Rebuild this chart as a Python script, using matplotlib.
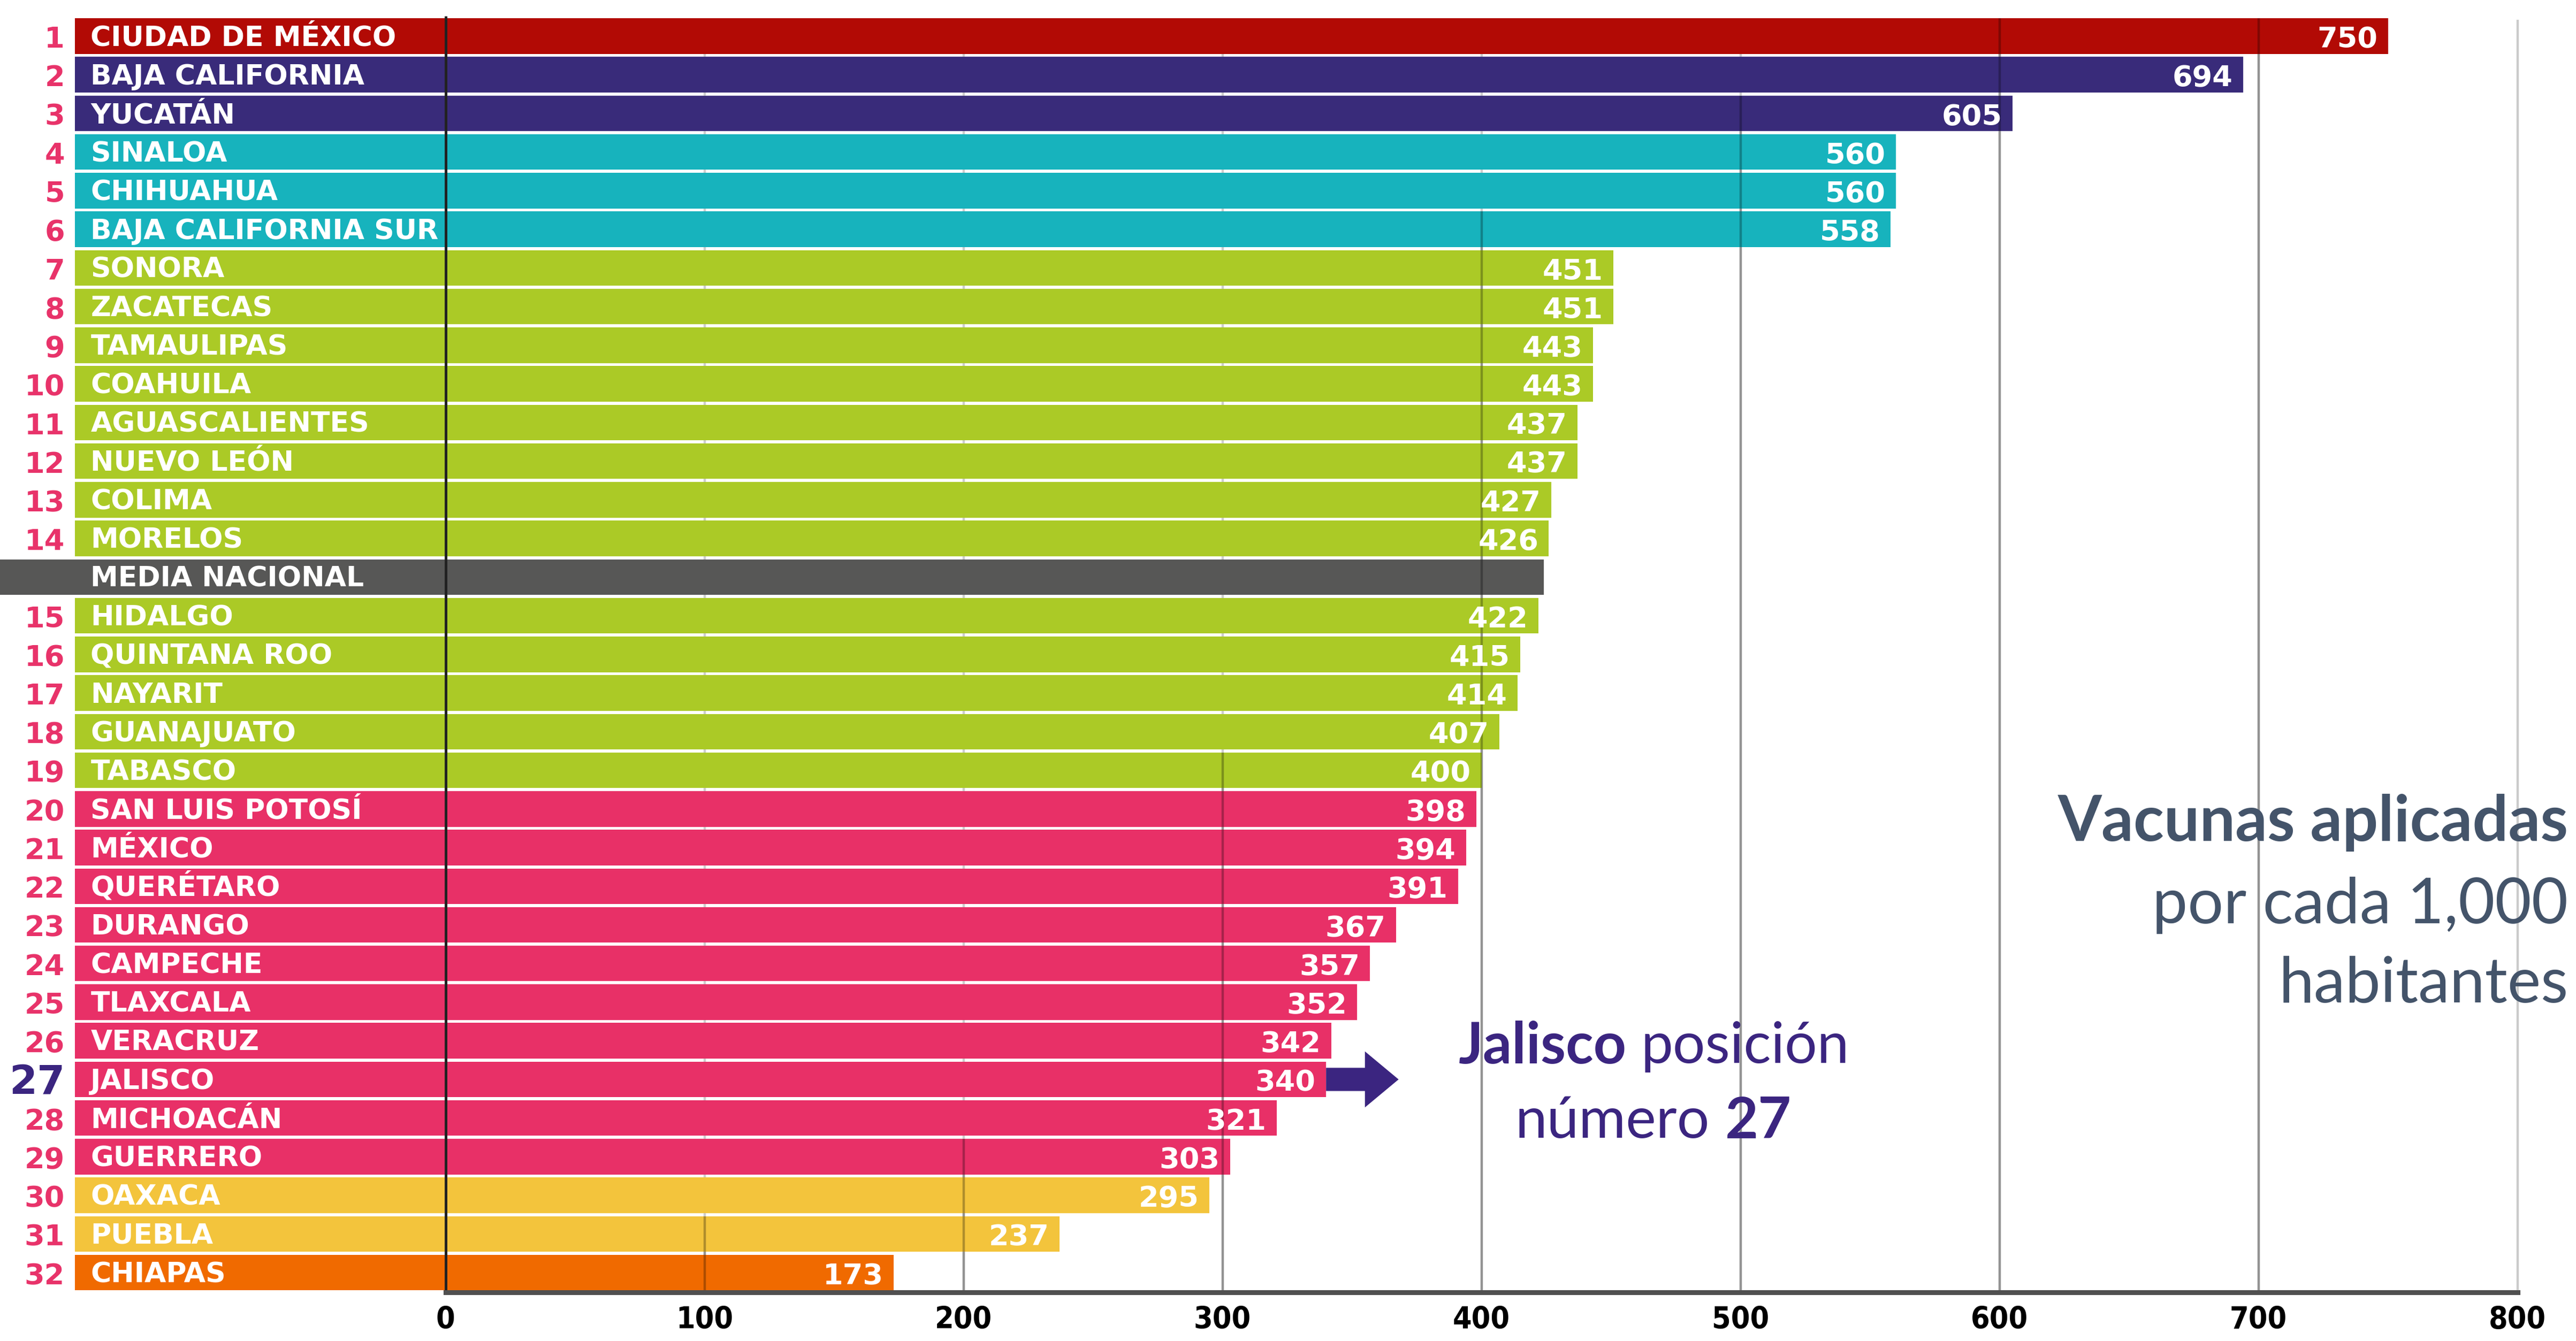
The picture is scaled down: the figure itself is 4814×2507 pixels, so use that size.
import matplotlib.pyplot as plt
from matplotlib.patches import FancyArrow
import numpy as np

# rows from top to bottom, the national mean sits between rank 14 and 15
states = ['CIUDAD DE MÉXICO', 'BAJA CALIFORNIA', 'YUCATÁN', 'SINALOA', 'CHIHUAHUA',
          'BAJA CALIFORNIA SUR', 'SONORA', 'ZACATECAS', 'TAMAULIPAS', 'COAHUILA',
          'AGUASCALIENTES', 'NUEVO LEÓN', 'COLIMA', 'MORELOS', 'MEDIA NACIONAL',
          'HIDALGO', 'QUINTANA ROO', 'NAYARIT', 'GUANAJUATO', 'TABASCO',
          'SAN LUIS POTOSÍ', 'MÉXICO', 'QUERÉTARO', 'DURANGO', 'CAMPECHE',
          'TLAXCALA', 'VERACRUZ', 'JALISCO', 'MICHOACÁN', 'GUERRERO',
          'OAXACA', 'PUEBLA', 'CHIAPAS']
ranks = ['1', '2', '3', '4', '5', '6', '7', '8', '9', '10', '11', '12', '13', '14', '',
         '15', '16', '17', '18', '19', '20', '21', '22', '23', '24', '25', '26', '27',
         '28', '29', '30', '31', '32']
values = [750, 694, 605, 560, 560, 558, 451, 451, 443, 443, 437, 437, 427, 426, 424,
          422, 415, 414, 407, 400, 398, 394, 391, 367, 357, 352, 342, 340, 321, 303,
          295, 237, 173]
groups = ['red', 'purple', 'purple', 'teal', 'teal', 'teal'] + ['lime'] * 8 + ['grey'] + \
         ['lime'] * 5 + ['pink'] * 10 + ['yellow', 'yellow', 'orange']
ticks = [0, 100, 200, 300, 400, 500, 600, 700, 800]
# state where each grid line starts to show over the bars
grid_start = {100: 'PUEBLA', 200: 'GUERRERO', 300: 'TABASCO', 400: 'BAJA CALIFORNIA SUR',
              500: 'YUCATÁN', 600: 'CIUDAD DE MÉXICO', 700: 'CIUDAD DE MÉXICO'}
highlight = 'JALISCO'

palette = {'red': '#B20A05', 'purple': '#392B7A', 'teal': '#17B3BD', 'lime': '#ABCA26',
           'grey': '#575756', 'pink': '#E83067', 'yellow': '#F3C43C', 'orange': '#F06A00'}
pink_num = '#E8336A'
dark_purple = '#3B2580'
slate = '#44546A'

W, H = 4814, 2507
fig = plt.figure(figsize=(W / 100, H / 100), dpi=100)
ax = fig.add_axes([0, 91 / H, 1, 2416 / H])

y = np.arange(len(states))
bar_left = -143
cols = [palette[g] for g in groups]
lefts = [-172 if g == 'grey' else bar_left for g in groups]
widths = [v - l for v, l in zip(values, lefts)]
ax.barh(y, widths, left=lefts, height=0.92, color=cols, zorder=2)

# light grid behind the bars
ax.vlines(ticks[1:], -0.42, 32.51, color='#cccccc', lw=3.2, zorder=1)
# darker grid lines over the lower bars
for t, s in grid_start.items():
    i = states.index(s)
    ax.vlines(t, i - 0.46, 32.51, color='black', alpha=0.28, lw=3.2, zorder=3)
ax.vlines(0, -0.52, 32.51, color='#222222', lw=3.6, zorder=4)

ff = 'DejaVu Sans'
for i, (s, r, v) in enumerate(zip(states, ranks, values)):
    ax.text(-137, i + 0.25, s, color='white', fontsize=37.5, fontweight='bold', family=ff,
            ha='left', va='baseline', zorder=5)
    if s != 'MEDIA NACIONAL':
        ax.text(v - 4, i + 0.3, str(v), color='white', fontsize=39, fontweight='bold',
                family=ff, ha='right', va='baseline', zorder=5)
    if r:
        if s == highlight:
            ax.text(-147, i + 0.37, r, color=dark_purple, fontsize=54, fontweight='bold',
                    family=ff, ha='right', va='baseline')
        else:
            ax.text(-147, i + 0.3, r, color=pink_num, fontsize=39, fontweight='bold',
                    family=ff, ha='right', va='baseline')

# arrow pointing to the Jalisco note
j = states.index(highlight)
jv = values[j]
ax.add_patch(FancyArrow(jv, j, 28, 0, width=0.6, head_width=1.45, head_length=13,
                        length_includes_head=True, color=dark_purple, lw=0, zorder=3))
ax.text(456, 26.15, 'Jalisco', color=dark_purple, fontsize=77, fontweight='bold',
        family='Lato', ha='right', va='center')
ax.text(461.5, 26.15, 'posición', color=dark_purple, fontsize=77, family='Lato',
        ha='left', va='center')
ax.text(488, 28.1, 'número', color=dark_purple, fontsize=77, family='Lato',
        ha='right', va='center')
ax.text(494, 28.1, '27', color=dark_purple, fontsize=77, fontweight='bold',
        family='Lato', ha='left', va='center')

fig.text(0.997, 1 - 1538 / H, 'Vacunas aplicadas', color=slate, fontsize=85,
         fontweight='bold', family='Lato', ha='right', va='center')
fig.text(0.997, 1 - 1692 / H, 'por cada 1,000', color=slate, fontsize=85,
         family='Lato', ha='right', va='center')
fig.text(0.997, 1 - 1840 / H, 'habitantes', color=slate, fontsize=85,
         family='Lato', ha='right', va='center')

ax.set_xlim(-172, 822.6)
ax.set_ylim(32.51, -0.934)
for sp in ['top', 'left', 'right']:
    ax.spines[sp].set_visible(False)
ax.spines['bottom'].set_bounds(0, 800)
ax.spines['bottom'].set_linewidth(6.5)
ax.spines['bottom'].set_color('#505050')
ax.spines['bottom'].set_zorder(6)
ax.set_yticks([])
ax.set_xticks(ticks)
ax.tick_params(axis='x', length=0, pad=18)
for lab in ax.get_xticklabels():
    lab.set_fontsize(41)
    lab.set_fontweight('bold')
    lab.set_family(ff)
    lab.set_fontstretch('condensed')

fig.savefig('out.png', dpi=100)
